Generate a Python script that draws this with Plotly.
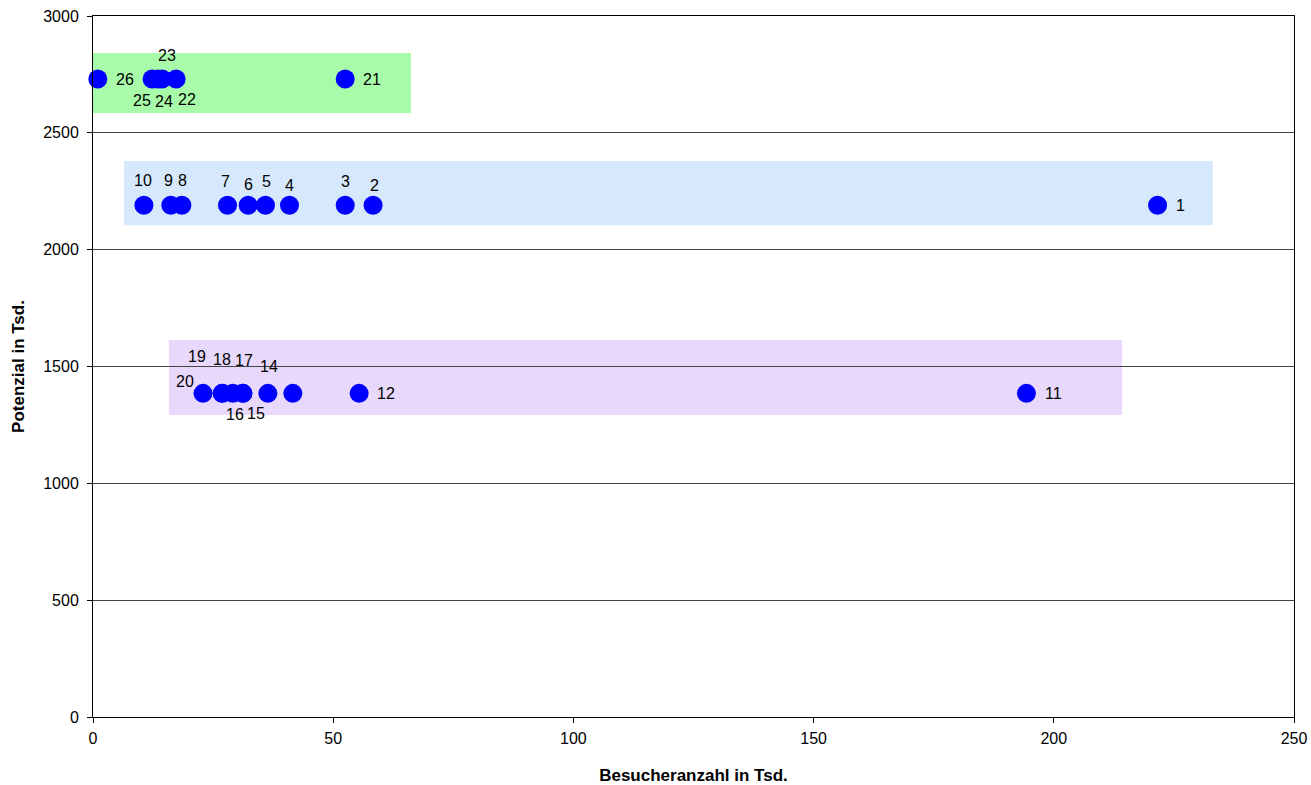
import plotly.graph_objects as go

# Data
ids = ["1", "2", "3", "4", "5", "6", "7", "8", "9", "10",
       "11", "12", "13", "14", "15", "16", "17", "18", "19", "20",
       "21", "22", "23", "24", "25", "26"]
besucher = [221.6, 58.3, 52.5, 40.9, 35.9, 32.3, 28.0, 18.5, 16.2, 10.6,
            194.3, 55.4, 41.6, 36.4, 31.2, 29.1, 31.2, 26.9, 26.9, 22.9,
            52.5, 17.3, 14.4, 13.5, 12.3, 1.0]
potenzial = [2190] * 10 + [1385] * 10 + [2730] * 6
labels = ["1", "2", "3", "4", "5", "6", "7", "8", "9", "10",
          "11", "12", "", "14", "15", "16", "17", "18", "19", "20",
          "21", "22", "23", "24", "25", "26"]

# Label offsets in pixels (dx right, dy up) – styling only
label_dx = [23, 1, 0, 0, 1, 0, -2, 1, -2, -1,
            27, 27, 0, 1, 13, 2, 1, 0, -25, -18,
            27, 11, 5, 6, -10, 27]
label_dy = [0, 20, 24, 20, 24, 21, 24, 25, 25, 25,
            0, 0, 0, 27, -20, -21, 33, 34, 37, 12,
            0, -20, 24, -22, -21, 0]

# Group bands (x0, x1, y0, y1)
band_x0 = [0, 6.45, 15.8]
band_x1 = [66.2, 233.1, 214.2]
band_y0 = [2585, 2105, 1292]
band_y1 = [2842, 2379, 1613]
band_colors = ["#A8FBA8", "#D5E8FC", "#E8D8FC"]

FONT = "Liberation Sans, Arial, sans-serif"

fig = go.Figure()
for x0, x1, y0, y1, c in zip(band_x0, band_x1, band_y0, band_y1, band_colors):
    fig.add_shape(type="rect", xref="x", yref="y", x0=x0, x1=x1, y0=y0, y1=y1,
                  fillcolor=c, line=dict(width=0), layer="below")

fig.add_trace(go.Scatter(
    x=besucher, y=potenzial, mode="markers",
    marker=dict(size=19, color="#0000FF", line=dict(width=0)),
    cliponaxis=False, showlegend=False, hovertext=ids,
))

for xv, yv, t, dx, dy in zip(besucher, potenzial, labels, label_dx, label_dy):
    if not t:
        continue
    fig.add_annotation(x=xv, y=yv, xref="x", yref="y", text=t, showarrow=False,
                       xshift=dx, yshift=dy, xanchor="center", yanchor="middle",
                       font=dict(family=FONT, size=16, color="black"))

fig.update_layout(
    width=1311, height=785,
    margin=dict(l=93, r=17, t=16, b=68),
    paper_bgcolor="white", plot_bgcolor="rgba(0,0,0,0)",
    font=dict(family=FONT, size=16, color="black"),
    xaxis=dict(range=[0, 250], tickvals=[0, 50, 100, 150, 200, 250],
               showgrid=False, zeroline=False, automargin=False,
               showline=True, linecolor="black", linewidth=1, mirror=True,
               ticks="outside", ticklen=5, tickcolor="black",
               ticklabelstandoff=2,
               tickfont=dict(size=16),
               title=dict(text="<b>Besucheranzahl in Tsd.</b>", standoff=24,
                          font=dict(size=17))),
    yaxis=dict(range=[0, 3000], tickvals=[0, 500, 1000, 1500, 2000, 2500, 3000],
               showgrid=True, gridcolor="#444444", gridwidth=1, zeroline=False,
               automargin=False,
               showline=True, linecolor="black", linewidth=1, mirror=True,
               ticks="outside", ticklen=5, tickcolor="black",
               ticklabelstandoff=5,
               tickfont=dict(size=16),
               title=dict(text="<b>Potenzial in Tsd.</b>", standoff=14,
                          font=dict(size=17))),
)

fig.write_html("out.html", config={"displayModeBar": False},
               post_script="document.body.style.margin='0';document.body.style.padding='0';")
